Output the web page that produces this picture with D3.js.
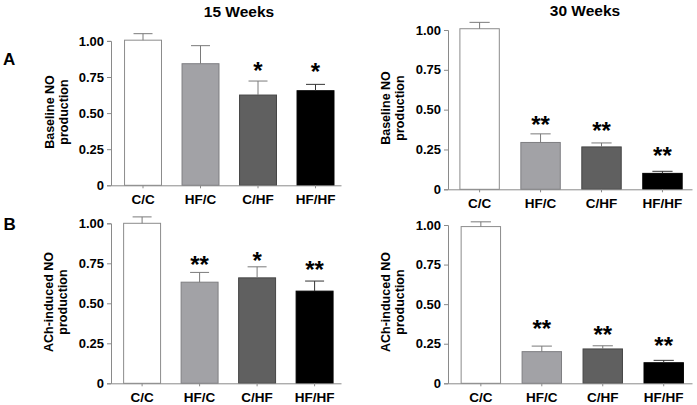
<!DOCTYPE html>
<html>
<head>
<meta charset="utf-8">
<script src="https://cdn.jsdelivr.net/npm/d3@7"></script>
<style>
  body { margin: 0; background: #fff; }
  svg { display: block; font-family: "Liberation Sans", Arial, sans-serif; }
</style>
</head>
<body>
<svg id="chart" width="697" height="405"></svg>
<script>
// ---------- data ----------
const categories = ["C/C", "HF/C", "C/HF", "HF/HF"];
const yTickValues = [0, 0.25, 0.5, 0.75, 1.0];

const baseline15Mean = [1.005, 0.842, 0.625, 0.655];
const baseline15Err  = [0.045, 0.125, 0.097, 0.044];
const baseline15Sig  = ["", "", "*", "*"];

const baseline30Mean = [1.008, 0.294, 0.266, 0.100];
const baseline30Err  = [0.040, 0.054, 0.025, 0.013];
const baseline30Sig  = ["", "**", "**", "**"];

const ach15Mean = [1.000, 0.632, 0.659, 0.576];
const ach15Err  = [0.040, 0.061, 0.069, 0.063];
const ach15Sig  = ["", "**", "*", "**"];

const ach30Mean = [0.990, 0.200, 0.217, 0.130];
const ach30Err  = [0.030, 0.035, 0.020, 0.015];
const ach30Sig  = ["", "**", "**", "**"];

const barFills   = ["#ffffff", "#a2a2a6", "#606060", "#000000"];
const barStrokes = ["#8c8c8c", "#7e7e82", "#454545", "#000000"];

// ---------- layout ----------
const svg = d3.select("#chart");
const font = "'Liberation Sans', Arial, sans-serif";

const panels = [
  { mean: baseline15Mean, err: baseline15Err, sig: baseline15Sig,
    x0: 111, x1: 341, align: 0.667, pi: 0.34, y0: 185.3, y1: 40.9,
    label: ["Baseline NO", "production"], labX: 54, labY: 112, starOff: [0,0,16,18] },
  { mean: baseline30Mean, err: baseline30Err, sig: baseline30Sig,
    x0: 448, x1: 692, align: 0.55, pi: 0.337, y0: 189.3, y1: 30,
    label: ["Baseline NO", "production"], labX: 390, labY: 108, starOff: [0,15,18,21] },
  { mean: ach15Mean, err: ach15Err, sig: ach15Sig,
    x0: 111, x1: 341, align: 0.62, pi: 0.34, y0: 383.3, y1: 223.3,
    label: ["ACh-induced NO", "production"], labX: 53, labY: 302, starOff: [0,13,12,17] },
  { mean: ach30Mean, err: ach30Err, sig: ach30Sig,
    x0: 448, x1: 692, align: 0.61, pi: 0.337, y0: 383.3, y1: 225,
    label: ["ACh-induced NO", "production"], labX: 390, labY: 302, starOff: [0,23,17,20] }
];

const axisColor = "#8a8a8a";

panels.forEach(p => {
  const g = svg.append("g");
  const x = d3.scaleBand().domain(categories).range([p.x0, p.x1])
    .paddingInner(p.pi).paddingOuter(0.17).align(p.align);
  const y = d3.scaleLinear().domain([0, 1]).range([p.y0, p.y1]);

  // bars
  const data = categories.map((c, i) => ({ c, i, m: p.mean[i], e: p.err[i], s: p.sig[i] }));
  g.selectAll("rect.bar").data(data).enter().append("rect")
    .attr("x", d => x(d.c) + 0.5)
    .attr("width", x.bandwidth() - 1)
    .attr("y", d => y(d.m))
    .attr("height", d => y(0) - y(d.m))
    .attr("fill", d => barFills[d.i])
    .attr("stroke", d => barStrokes[d.i])
    .attr("stroke-width", 1);

  // error bars (upper)
  const capW = x.bandwidth() / 2;
  data.forEach(d => {
    const cx = x(d.c) + x.bandwidth() / 2;
    const col = d.i === 3 ? "#333" : "#7a7a7a";
    g.append("line").attr("x1", cx).attr("x2", cx)
      .attr("y1", y(d.m)).attr("y2", y(d.m + d.e))
      .attr("stroke", col).attr("stroke-width", 1);
    g.append("line").attr("x1", cx - capW / 2).attr("x2", cx + capW / 2)
      .attr("y1", y(d.m + d.e)).attr("y2", y(d.m + d.e))
      .attr("stroke", col).attr("stroke-width", 1);
    if (d.s) {
      const cy = y(d.m + d.e) - p.starOff[d.i];
      g.append("text").attr("x", cx).attr("y", cy + 0.58 * 24)
        .attr("text-anchor", "middle").attr("font-size", 24)
        .attr("font-weight", "bold").attr("font-family", font)
        .text(d.s);
    }
  });

  // y axis
  const ya = g.append("g").attr("transform", `translate(${p.x0},0)`)
    .call(d3.axisLeft(y).tickValues(yTickValues).tickSize(4).tickPadding(3)
      .tickFormat(v => v === 0 ? "0" : d3.format(".2f")(v)));
  ya.select(".domain").attr("stroke", axisColor);
  ya.selectAll(".tick line").attr("stroke", axisColor);
  ya.selectAll(".tick text").attr("font-size", 13).attr("font-weight", "bold")
    .attr("font-family", font).attr("fill", "#000");

  // x axis
  const xa = g.append("g").attr("transform", `translate(0,${p.y0})`)
    .call(d3.axisBottom(x).tickSize(3).tickPadding(6).tickSizeOuter(0));
  xa.select(".domain").attr("stroke", axisColor);
  xa.selectAll(".tick line").attr("stroke", axisColor);
  xa.selectAll(".tick text").attr("font-size", 13.5).attr("font-weight", "bold")
    .attr("font-family", font).attr("fill", "#000");

  // y label
  const lab = g.append("text")
    .attr("transform", `translate(${p.labX},${p.labY}) rotate(-90)`)
    .attr("text-anchor", "middle").attr("font-size", 12.5).attr("font-weight", "bold")
    .attr("font-family", font);
  lab.append("tspan").attr("x", 0).attr("y", 0).text(p.label[0]);
  lab.append("tspan").attr("x", 0).attr("y", 14).text(p.label[1]);
});

// titles and panel letters
svg.append("text").attr("x", 239).attr("y", 17).attr("text-anchor", "middle")
  .attr("font-size", 15.5).attr("font-weight", "bold").attr("font-family", font).text("15 Weeks");
svg.append("text").attr("x", 585).attr("y", 15.5).attr("text-anchor", "middle")
  .attr("font-size", 15.5).attr("font-weight", "bold").attr("font-family", font).text("30 Weeks");
svg.append("text").attr("x", 3).attr("y", 65).attr("font-size", 17)
  .attr("font-weight", "bold").attr("font-family", font).text("A");
svg.append("text").attr("x", 3.5).attr("y", 230).attr("font-size", 17)
  .attr("font-weight", "bold").attr("font-family", font).text("B");
</script>
</body>
</html>
